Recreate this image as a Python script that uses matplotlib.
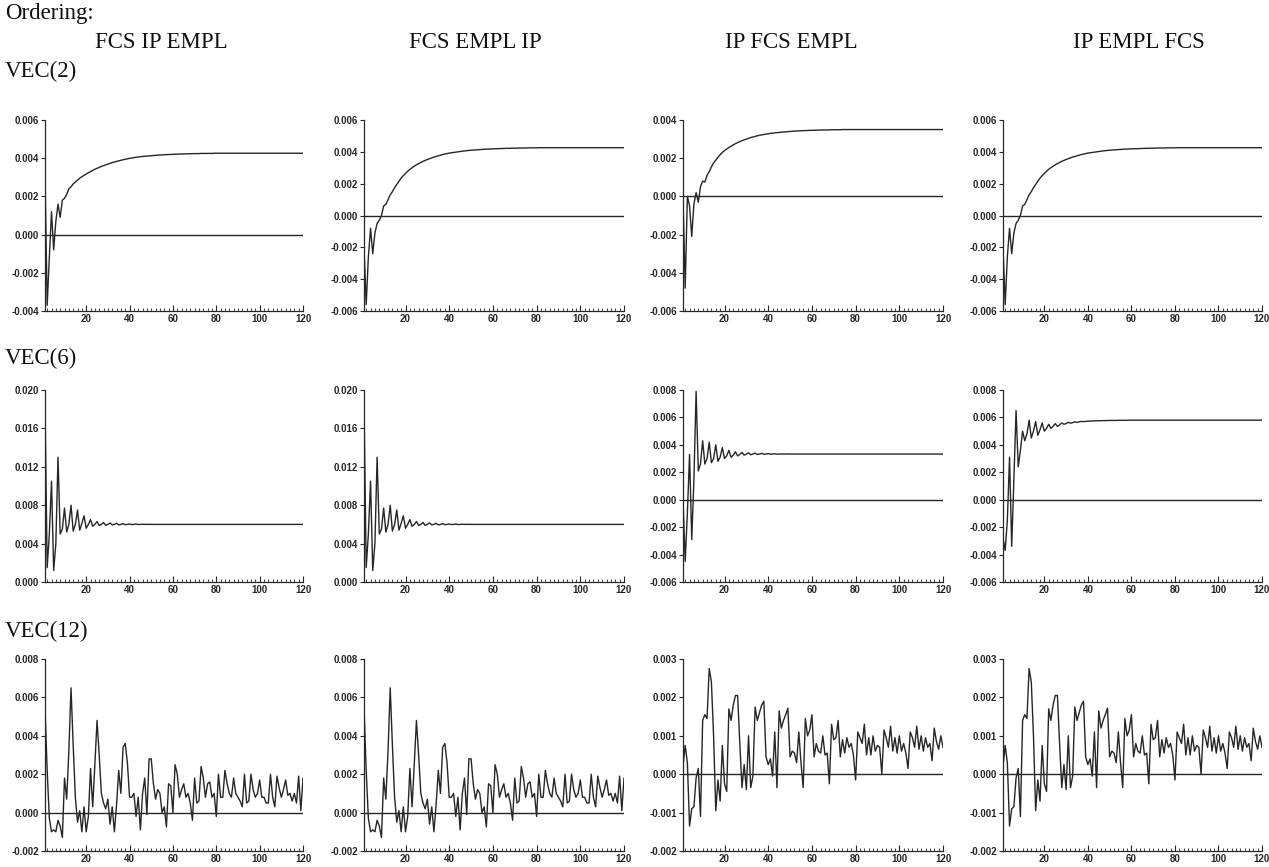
import numpy as np
import matplotlib
matplotlib.use("Agg")
import matplotlib.pyplot as plt
from matplotlib.ticker import MultipleLocator, FuncFormatter

# %%
# impulse responses, values in units of 0.001
periods = np.arange(1, 121)

orderings = ["FCS IP EMPL", "FCS EMPL IP", "IP FCS EMPL", "IP EMPL FCS"]
models = ["VEC(2)", "VEC(6)", "VEC(12)"]

# VEC(2)
vec2_fcs_ip_empl = [
    3.2, -3.7, -1.2, 1.2, -0.8, 0.7, 1.6, 0.9, 1.8, 1.9,
    2.1, 2.4, 2.5, 2.65, 2.75, 2.85, 2.95, 3.03, 3.1, 3.17,
    3.24, 3.3, 3.36, 3.42, 3.47, 3.52, 3.57, 3.61, 3.65, 3.69,
    3.73, 3.77, 3.8, 3.83, 3.86, 3.89, 3.92, 3.94, 3.97, 3.99,
    4.01, 4.03, 4.05, 4.06, 4.08, 4.09, 4.1, 4.11, 4.12, 4.13,
    4.14, 4.15, 4.16, 4.17, 4.17, 4.18, 4.19, 4.19, 4.2, 4.2,
    4.21, 4.21, 4.22, 4.22, 4.22, 4.23, 4.23, 4.23, 4.24, 4.24,
    4.24, 4.24, 4.25, 4.25, 4.25, 4.25, 4.25, 4.25, 4.26, 4.26,
    4.26, 4.26, 4.26, 4.26, 4.26, 4.26, 4.26, 4.26, 4.26, 4.26,
    4.26, 4.26, 4.26, 4.26, 4.26, 4.26, 4.26, 4.26, 4.26, 4.26,
    4.26, 4.26, 4.26, 4.26, 4.26, 4.26, 4.26, 4.26, 4.26, 4.26,
    4.26, 4.26, 4.26, 4.26, 4.26, 4.26, 4.26, 4.26, 4.26, 4.26,
]
vec2_fcs_empl_ip = [
    -2.0, -5.6, -2.6, -0.8, -2.4, -1.1, -0.5, -0.3, 0.0, 0.6,
    0.7, 1.0, 1.3, 1.5, 1.75, 1.95, 2.15, 2.35, 2.5, 2.65,
    2.78, 2.9, 3.0, 3.1, 3.18, 3.26, 3.33, 3.4, 3.46, 3.52,
    3.57, 3.62, 3.67, 3.71, 3.75, 3.79, 3.83, 3.86, 3.89, 3.92,
    3.94, 3.96, 3.98, 4.0, 4.02, 4.04, 4.06, 4.07, 4.09, 4.1,
    4.11, 4.12, 4.13, 4.14, 4.15, 4.16, 4.17, 4.17, 4.18, 4.19,
    4.19, 4.2, 4.2, 4.21, 4.21, 4.22, 4.22, 4.22, 4.23, 4.23,
    4.23, 4.24, 4.24, 4.24, 4.24, 4.25, 4.25, 4.25, 4.25, 4.25,
    4.26, 4.26, 4.26, 4.26, 4.26, 4.26, 4.26, 4.26, 4.26, 4.26,
    4.26, 4.26, 4.26, 4.26, 4.26, 4.26, 4.26, 4.26, 4.26, 4.26,
    4.26, 4.26, 4.26, 4.26, 4.26, 4.26, 4.26, 4.26, 4.26, 4.26,
    4.26, 4.26, 4.26, 4.26, 4.26, 4.26, 4.26, 4.26, 4.26, 4.26,
]
vec2_ip_fcs_empl = [
    0.0, -4.8, 0.0, -0.5, -2.1, -0.4, 0.2, -0.3, 0.5, 0.8,
    0.75, 1.1, 1.3, 1.55, 1.75, 1.9, 2.05, 2.18, 2.3, 2.4,
    2.48, 2.56, 2.63, 2.7, 2.76, 2.82, 2.87, 2.92, 2.96, 3.0,
    3.04, 3.08, 3.11, 3.14, 3.17, 3.2, 3.22, 3.24, 3.26, 3.28,
    3.3, 3.31, 3.33, 3.34, 3.35, 3.36, 3.37, 3.38, 3.39, 3.4,
    3.41, 3.42, 3.42, 3.43, 3.44, 3.44, 3.45, 3.45, 3.46, 3.46,
    3.46, 3.47, 3.47, 3.47, 3.48, 3.48, 3.48, 3.48, 3.49, 3.49,
    3.49, 3.49, 3.49, 3.5, 3.5, 3.5, 3.5, 3.5, 3.5, 3.5,
    3.5, 3.5, 3.5, 3.5, 3.5, 3.5, 3.5, 3.5, 3.5, 3.5,
    3.5, 3.5, 3.5, 3.5, 3.5, 3.5, 3.5, 3.5, 3.5, 3.5,
    3.5, 3.5, 3.5, 3.5, 3.5, 3.5, 3.5, 3.5, 3.5, 3.5,
    3.5, 3.5, 3.5, 3.5, 3.5, 3.5, 3.5, 3.5, 3.5, 3.5,
]
vec2_ip_empl_fcs = vec2_fcs_empl_ip  # looks the same in the scan

# VEC(6)
vec6_fcs_first = [
    18.5, 1.5, 5.0, 10.5, 1.2, 4.0, 13.0, 5.0, 5.5, 7.7,
    5.2, 6.0, 8.0, 5.3, 6.0, 7.5, 5.4, 6.1, 6.9, 5.6,
    6.0, 6.5, 5.8, 6.0, 6.3, 5.9, 6.0, 6.2, 5.9, 6.0,
    6.15, 5.95, 6.0, 6.12, 5.95, 6.0, 6.08, 5.97, 6.0, 6.05,
    5.98, 6.0, 6.04, 5.99, 6.0, 6.02, 6.0, 6.0, 6.01, 6.0,
    6.0, 6.0, 6.0, 6.0, 6.0, 6.0, 6.0, 6.0, 6.0, 6.0,
    6.0, 6.0, 6.0, 6.0, 6.0, 6.0, 6.0, 6.0, 6.0, 6.0,
    6.0, 6.0, 6.0, 6.0, 6.0, 6.0, 6.0, 6.0, 6.0, 6.0,
    6.0, 6.0, 6.0, 6.0, 6.0, 6.0, 6.0, 6.0, 6.0, 6.0,
    6.0, 6.0, 6.0, 6.0, 6.0, 6.0, 6.0, 6.0, 6.0, 6.0,
    6.0, 6.0, 6.0, 6.0, 6.0, 6.0, 6.0, 6.0, 6.0, 6.0,
    6.0, 6.0, 6.0, 6.0, 6.0, 6.0, 6.0, 6.0, 6.0, 6.0,
]
vec6_ip_fcs_empl = [
    0.0, -4.5, -1.0, 3.3, -2.9, 1.5, 7.9, 2.1, 2.6, 4.3,
    2.6, 3.0, 4.2, 2.7, 3.0, 4.0, 2.8, 3.1, 3.8, 3.0,
    3.2, 3.6, 3.1, 3.25, 3.5, 3.2, 3.3, 3.45, 3.25, 3.32,
    3.42, 3.28, 3.33, 3.4, 3.3, 3.33, 3.38, 3.31, 3.33, 3.36,
    3.32, 3.33, 3.35, 3.32, 3.33, 3.34, 3.33, 3.33, 3.34, 3.33,
    3.33, 3.33, 3.33, 3.33, 3.33, 3.33, 3.33, 3.33, 3.33, 3.33,
    3.33, 3.33, 3.33, 3.33, 3.33, 3.33, 3.33, 3.33, 3.33, 3.33,
    3.33, 3.33, 3.33, 3.33, 3.33, 3.33, 3.33, 3.33, 3.33, 3.33,
    3.33, 3.33, 3.33, 3.33, 3.33, 3.33, 3.33, 3.33, 3.33, 3.33,
    3.33, 3.33, 3.33, 3.33, 3.33, 3.33, 3.33, 3.33, 3.33, 3.33,
    3.33, 3.33, 3.33, 3.33, 3.33, 3.33, 3.33, 3.33, 3.33, 3.33,
    3.33, 3.33, 3.33, 3.33, 3.33, 3.33, 3.33, 3.33, 3.33, 3.33,
]
vec6_ip_empl_fcs = [
    -2.8, -3.7, -1.5, 3.1, -3.4, 1.5, 6.5, 2.4, 3.6, 5.0,
    4.3, 4.8, 5.8, 4.5, 5.0, 5.7, 4.7, 5.1, 5.6, 5.0,
    5.2, 5.5, 5.2, 5.35, 5.55, 5.35, 5.45, 5.6, 5.5, 5.55,
    5.65, 5.58, 5.62, 5.68, 5.64, 5.67, 5.71, 5.69, 5.71, 5.73,
    5.73, 5.74, 5.75, 5.75, 5.76, 5.76, 5.77, 5.77, 5.77, 5.78,
    5.78, 5.78, 5.78, 5.79, 5.79, 5.79, 5.79, 5.79, 5.8, 5.8,
    5.8, 5.8, 5.8, 5.8, 5.8, 5.8, 5.8, 5.8, 5.8, 5.8,
    5.8, 5.8, 5.8, 5.8, 5.8, 5.8, 5.8, 5.8, 5.8, 5.8,
    5.8, 5.8, 5.8, 5.8, 5.8, 5.8, 5.8, 5.8, 5.8, 5.8,
    5.8, 5.8, 5.8, 5.8, 5.8, 5.8, 5.8, 5.8, 5.8, 5.8,
    5.8, 5.8, 5.8, 5.8, 5.8, 5.8, 5.8, 5.8, 5.8, 5.8,
    5.8, 5.8, 5.8, 5.8, 5.8, 5.8, 5.8, 5.8, 5.8, 5.8,
]

# VEC(12)
vec12_fcs_first = [
    5.5, 2.2, -0.3, -1.0, -0.9, -1.0, -0.4, -0.7, -1.3, 1.8,
    0.7, 3.2, 6.5, 3.5, 0.8, -0.5, 0.1, -1.0, 0.3, -1.0,
    -0.2, 2.3, 0.3, 2.5, 4.8, 3.0, 1.0, 0.5, 0.2, 0.7,
    -0.6, 0.3, -1.0, 0.4, 2.2, 1.0, 3.4, 3.6, 2.6, 0.8,
    0.8, 1.0, -0.2, 0.8, -0.9, 1.0, 1.8, -0.1, 2.8, 2.8,
    1.5, 0.7, 1.2, 1.0, 0.0, 0.3, -0.75, 1.5, 1.4, 0.0,
    2.5, 2.0, 0.8, 1.2, 1.5, 0.8, 1.0, 0.5, -0.4, 1.8,
    0.5, 0.6, 2.4, 1.8, 0.8, 1.5, 1.6, 0.8, 1.0, -0.2,
    2.0, 0.8, 0.8, 2.2, 1.5, 1.0, 0.8, 1.8, 1.0, 0.8,
    0.6, 0.3, 2.0, 0.5, 0.6, 2.0, 1.2, 0.8, 1.0, 1.7,
    0.8, 0.8, 0.5, 0.5, 2.0, 0.8, 0.3, 1.9, 1.3, 0.8,
    1.2, 1.7, 0.9, 1.0, 0.6, 1.0, 0.5, 1.9, 0.1, 1.8,
]
vec12_ip_first = [
    0.2, 0.75, 0.3, -1.35, -0.9, -0.85, -0.1, 0.15, -1.1, 1.4,
    1.55, 1.45, 2.75, 2.4, 1.0, -0.95, -0.15, -0.7, 0.75, -0.25,
    -0.45, 1.7, 1.4, 1.8, 2.05, 2.05, 0.8, -0.35, 0.25, -0.4,
    1.0, -0.35, -0.05, 1.75, 1.4, 1.6, 1.8, 1.9, 0.45, 0.25,
    0.4, -0.05, 1.1, -0.35, 1.65, 1.2, 1.4, 1.55, 1.72, 0.45,
    0.6, 0.55, 0.3, 1.1, 0.3, -0.35, 1.45, 1.0, 1.15, 1.55,
    0.45, 0.8, 0.6, 0.55, 1.0, 0.5, 0.55, -0.25, 1.3, 0.9,
    0.95, 1.4, 0.45, 0.9, 0.55, 0.95, 0.7, 0.8, 0.5, -0.15,
    1.1, 0.95, 0.8, 1.3, 0.5, 0.95, 0.5, 1.0, 0.6, 0.75,
    0.7, 0.0, 1.15, 0.95, 0.7, 1.25, 0.6, 0.95, 0.55, 1.0,
    0.6, 0.8, 0.55, 0.15, 1.1, 0.95, 0.7, 1.25, 0.65, 1.0,
    0.6, 0.95, 0.7, 0.8, 0.35, 1.2, 0.85, 0.65, 1.0, 0.7,
]

# (row, col, series, ymin, ymax, ytick step) -- y limits in units of 0.001
panels = [
    (0, 0, vec2_fcs_ip_empl, -4, 6, 2),
    (0, 1, vec2_fcs_empl_ip, -6, 6, 2),
    (0, 2, vec2_ip_fcs_empl, -6, 4, 2),
    (0, 3, vec2_ip_empl_fcs, -6, 6, 2),
    (1, 0, vec6_fcs_first, 0, 20, 4),
    (1, 1, vec6_fcs_first, 0, 20, 4),
    (1, 2, vec6_ip_fcs_empl, -6, 8, 2),
    (1, 3, vec6_ip_empl_fcs, -6, 8, 2),
    (2, 0, vec12_fcs_first, -2, 8, 2),
    (2, 1, vec12_fcs_first, -2, 8, 2),
    (2, 2, vec12_ip_first, -2, 3, 1),
    (2, 3, vec12_ip_first, -2, 3, 1),
]

# %%
W, H = 1269, 867
fig = plt.figure(figsize=(W / 100, H / 100), dpi=100)
fig.patch.set_facecolor("white")

# axes boxes in pixels: (left, right) per column, (top, bottom) per row
col_px = [(45, 303), (364, 624), (683, 943), (1003, 1262)]
row_px = [(120, 311), (390, 582), (659, 851)]

line_col = "#262626"
tick_font = dict(family="Liberation Sans", size=7, weight="bold")

for row, col, series, ymin, ymax, ystep in panels:
    x0, x1 = col_px[col]
    y0, y1 = row_px[row]
    ax = fig.add_axes([x0 / W, 1 - y1 / H, (x1 - x0) / W, (y1 - y0) / H])

    vals = np.array(series) / 1000.0
    ax.plot(periods, vals, color=line_col, lw=1.0)
    if ymin < 0:
        ax.axhline(0, color=line_col, lw=1.0)

    ax.set_xlim(1, 120)
    ax.set_ylim(ymin / 1000.0, ymax / 1000.0)

    ax.xaxis.set_major_locator(MultipleLocator(20))
    ax.xaxis.set_minor_locator(MultipleLocator(2))
    ax.yaxis.set_major_locator(MultipleLocator(ystep / 1000.0))
    ax.yaxis.set_major_formatter(FuncFormatter(lambda v, p: "%.3f" % (round(v, 6) + 0.0)))

    for s in ["top", "right"]:
        ax.spines[s].set_visible(False)
    for s in ["left", "bottom"]:
        ax.spines[s].set_linewidth(0.9)
        ax.spines[s].set_color(line_col)

    ax.tick_params(axis="y", direction="out", length=3, width=0.8, pad=1.5, colors=line_col)
    ax.tick_params(axis="x", which="major", direction="in", length=4, width=0.8, pad=2.5, colors=line_col)
    ax.tick_params(axis="x", which="minor", direction="in", length=2.5, width=0.6, colors=line_col)
    for lab in ax.get_xticklabels() + ax.get_yticklabels():
        lab.set_fontproperties(tick_font)

# %%
# headings
serif = dict(family="Liberation Serif", size=16.5, color="#111111")
fig.text(5 / W, 1 - 19 / H, "Ordering:", ha="left", va="baseline", **serif)
header_x = [161, 475, 791, 1139]
for name, hx in zip(orderings, header_x):
    fig.text(hx / W, 1 - 48 / H, name, ha="center", va="baseline", **serif)
model_y = [77, 364, 637]
for name, my in zip(models, model_y):
    fig.text(5 / W, 1 - my / H, name, ha="left", va="baseline", **serif)

fig.savefig("out.png", dpi=100)
